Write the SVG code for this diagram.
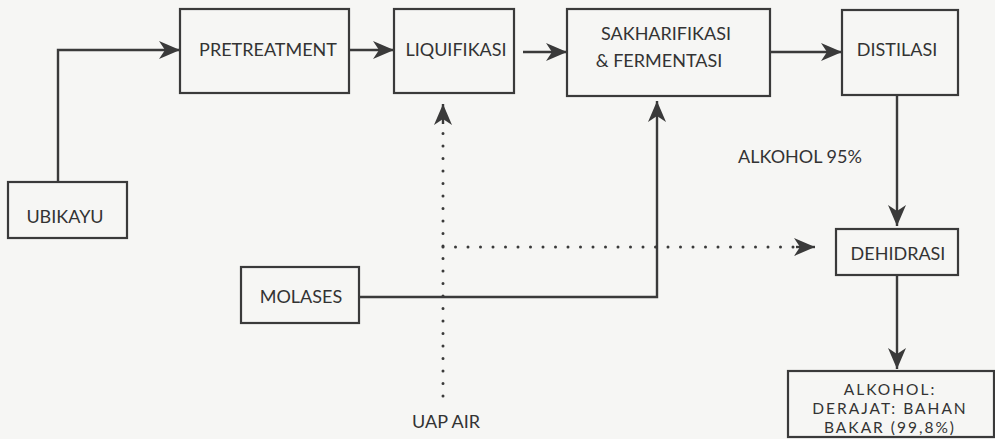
<svg xmlns="http://www.w3.org/2000/svg" width="995" height="439" viewBox="0 0 995 439">
<defs>
<style>
.box{fill:none;stroke:#3a3a3a;stroke-width:2.2}
.t{font-family:Lato,"Open Sans",sans-serif;font-size:18px;fill:#333;text-anchor:middle}
.s{font-size:15.5px;letter-spacing:2px}
.ln{fill:none;stroke:#3a3a3a;stroke-width:2.4}
.dot{fill:none;stroke:#3a3a3a;stroke-width:3;stroke-dasharray:0 12.5;stroke-linecap:round}
</style>
<marker id="ah" markerUnits="userSpaceOnUse" markerWidth="22" markerHeight="18" refX="21" refY="9" orient="auto">
<path d="M0,0 L21,9 L0,18 L6,9 Z" fill="#3a3a3a"/>
</marker>
</defs>
<rect width="995" height="439" fill="#f6f6f4"/>
<g id="pretreatment"><rect class="box" x="180" y="9" width="169" height="84"/><text class="t" x="268" y="56">PRETREATMENT</text></g>
<g id="liquifikasi"><rect class="box" x="394" y="9" width="120" height="84"/><text class="t" x="456" y="56">LIQUIFIKASI</text></g>
<g id="sakharifikasi"><rect class="box" x="567" y="9" width="203" height="87"/><text class="t" x="666" y="40">SAKHARIFIKASI</text><text class="t" x="659" y="67">&amp; FERMENTASI</text></g>
<g id="distilasi"><rect class="box" x="842" y="10" width="116" height="85"/><text class="t" x="897" y="56">DISTILASI</text></g>
<g id="ubikayu"><rect class="box" x="8" y="182" width="119" height="56"/><text class="t" x="65" y="223">UBIKAYU</text></g>
<g id="molases"><rect class="box" x="241" y="267" width="118" height="56"/><text class="t" x="301" y="303">MOLASES</text></g>
<g id="dehidrasi"><rect class="box" x="836" y="229" width="122" height="46"/><text class="t" x="898" y="260">DEHIDRASI</text></g>
<g id="alkohol"><rect class="box" x="788" y="371" width="206" height="66"/><text class="t s" x="890" y="395">ALKOHOL:</text><text class="t s" x="890" y="414">DERAJAT: BAHAN</text><text class="t s" x="890" y="433">BAKAR (99,8%)</text></g>
<g id="labels"><text class="t" x="800" y="163">ALKOHOL 95%</text><text class="t" x="446" y="428">UAP AIR</text></g>
<g id="connectors">
<path class="ln" d="M58,182 V50 H180" marker-end="url(#ah)"/>
<path class="ln" d="M349,50 H394" marker-end="url(#ah)"/>
<path class="ln" d="M523,52 H567" marker-end="url(#ah)"/>
<path class="ln" d="M770,52 H842" marker-end="url(#ah)"/>
<path class="ln" d="M897,95 V226" marker-end="url(#ah)"/>
<path class="ln" d="M897,275 V369" marker-end="url(#ah)"/>
<path class="ln" d="M359,297 H657 V101" marker-end="url(#ah)"/>
<path class="dot" d="M443,396 V122"/>
<path class="ln" d="M443,124 V104" marker-end="url(#ah)" stroke="none"/>
<path class="dot" d="M443,247 H797"/>
<path class="ln" d="M796,247 H815" marker-end="url(#ah)" stroke="none"/>
</g>
</svg>
